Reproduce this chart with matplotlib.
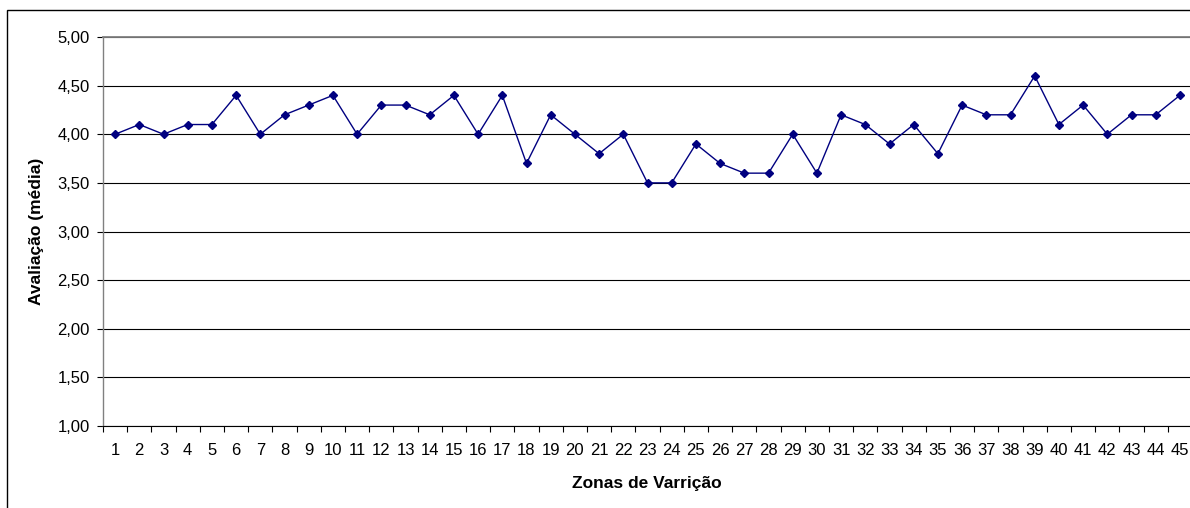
import matplotlib
matplotlib.use("Agg")
import matplotlib.pyplot as plt
from matplotlib.patches import Rectangle
from matplotlib.ticker import FixedLocator, FuncFormatter

plt.rcParams['font.family'] = ['Liberation Sans', 'DejaVu Sans']

zonas = list(range(1, 46))
media = [4.0, 4.1, 4.0, 4.1, 4.1, 4.4, 4.0, 4.2, 4.3, 4.4,
         4.0, 4.3, 4.3, 4.2, 4.4, 4.0, 4.4, 3.7, 4.2, 4.0,
         3.8, 4.0, 3.5, 3.5, 3.9, 3.7, 3.6, 3.6, 4.0, 3.6,
         4.2, 4.1, 3.9, 4.1, 3.8, 4.3, 4.2, 4.2, 4.6, 4.1,
         4.3, 4.0, 4.2, 4.2, 4.4]
y_ticks = [1.0, 1.5, 2.0, 2.5, 3.0, 3.5, 4.0, 4.5, 5.0]

fig = plt.figure(figsize=(11.9, 5.08), dpi=100)
# outer chart border
fig.patches.append(Rectangle((7/1190, -0.1), 1.2, 1.1 - 10/508,
                             transform=fig.transFigure, fill=False,
                             edgecolor='black', linewidth=1.0))
ax = fig.add_axes([103/1190, 1 - 426/508, 1089/1190, (426 - 37)/508])

ax.plot(zonas, media, color='#000080', linewidth=1.0, marker='D',
        markersize=4.5, markerfacecolor='#000080', markeredgecolor='#000080',
        zorder=3)

ax.set_xlim(0.5, 45.5)
ax.set_ylim(1.0, 5.0)
ax.set_yticks(y_ticks)
ax.yaxis.set_major_formatter(FuncFormatter(lambda v, p: f"{v:.2f}".replace('.', ',')))
ax.grid(axis='y', color='black', linewidth=0.8)
ax.set_axisbelow(True)

# x: tick marks at boundaries, labels at centers
ax.xaxis.set_major_locator(FixedLocator([z - 0.5 for z in zonas] + [45.5]))
ax.xaxis.set_major_formatter(FuncFormatter(lambda v, p: ''))
ax.xaxis.set_minor_locator(FixedLocator(zonas))
ax.xaxis.set_minor_formatter(FuncFormatter(lambda v, p: f"{int(round(v))}"))
ax.tick_params(axis='x', which='major', direction='out', length=4, width=0.8, color='black')
ax.tick_params(axis='x', which='minor', length=0, pad=12, labelsize=12)
ax.tick_params(axis='y', direction='out', length=4.5, width=0.8, labelsize=12, pad=5)

ax.spines['right'].set_visible(False)
ax.spines['top'].set_color('#808080')
ax.spines['top'].set_linewidth(1.3)
ax.spines['left'].set_color('#808080')
ax.spines['left'].set_linewidth(1.0)
ax.spines['bottom'].set_color('black')
ax.spines['bottom'].set_linewidth(0.8)

ax.set_xlabel('Zonas de Varrição', fontsize=12.5, fontweight='bold')
ax.set_ylabel('Avaliação (média)', fontsize=12.5, fontweight='bold')
ax.xaxis.set_label_coords((647 - 103) / 1089, (426 - 476) / 389)
ax.yaxis.set_label_coords((44 - 103) / 1089, 0.5)

fig.savefig('out.png', dpi=100)
